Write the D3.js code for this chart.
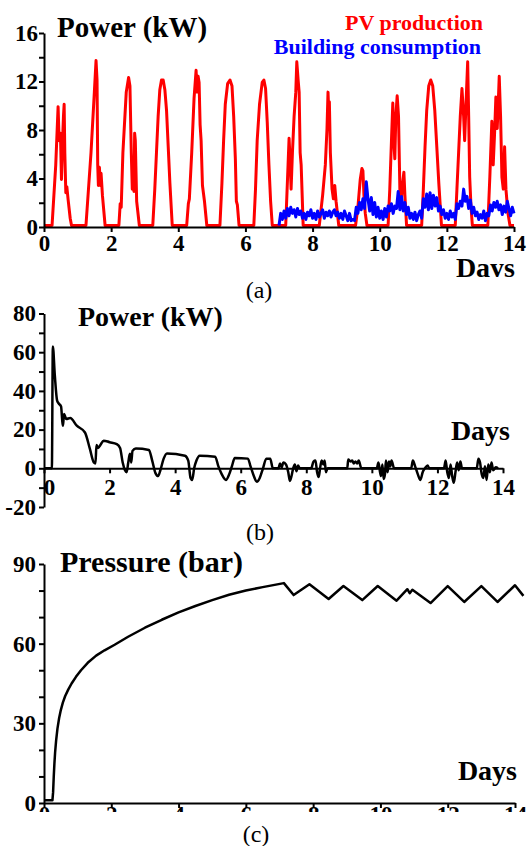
<!DOCTYPE html>
<html>
<head>
<meta charset="utf-8">
<script src="https://cdn.jsdelivr.net/npm/d3@7"></script>
<style>
  body { margin: 0; background: #fff; }
  svg text { font-family: "Liberation Serif", "Times New Roman", serif; fill: #000; }
  .axis path, .axis line { stroke: #000; stroke-width: 2; }
  .axis text { font-family: "Liberation Serif", "Times New Roman", serif; font-size: 23px; font-weight: bold; }
  .title { font-size: 29px; font-weight: bold; }
  .days { font-size: 28px; font-weight: bold; }
  .caption { font-size: 24px; }
  .legend { font-size: 22px; font-weight: bold; }
</style>
</head>
<body>
<script>
// 日数の目盛
var dayTicks = [0, 2, 4, 6, 8, 10, 12, 14];

// (a) 太陽光発電 [日, kW]
var pvProduction = [
  [0,0],[0.24,0],[0.35,5],[0.42,9.8],[0.45,7],[0.49,7.6],[0.52,3.8],[0.55,6.8],[0.58,9],[0.6,10],[0.62,6],[0.65,2.7],[0.68,3.2],[0.72,2.1],[0.78,0.6],[0.82,0],
  [1.25,0],[1.4,6],[1.5,11],[1.55,13.6],[1.58,12],[1.6,5],[1.62,3.3],[1.65,4.8],[1.68,3.3],[1.7,4.3],[1.74,2.5],[1.82,0],
  [2.23,0],[2.27,1.8],[2.3,1.5],[2.35,6],[2.45,11],[2.52,12.2],[2.56,11.5],[2.6,6],[2.63,3],[2.66,4.5],[2.68,2.8],[2.7,7.6],[2.72,7],[2.76,2],[2.84,0],
  [3.24,0],[3.3,3],[3.35,6],[3.4,9],[3.45,11.2],[3.5,12],[3.55,12],[3.6,11.2],[3.65,9.5],[3.7,6.5],[3.75,3.5],[3.82,0],
  [4.25,0],[4.3,1.8],[4.33,2.2],[4.4,6],[4.47,10.5],[4.53,12.8],[4.56,11],[4.59,12.3],[4.62,11.8],[4.65,8.3],[4.68,7],[4.72,3.3],[4.78,2],[4.85,0],
  [5.24,0],[5.3,3.5],[5.35,7],[5.4,10],[5.47,11.7],[5.54,12],[5.6,11.5],[5.65,9],[5.7,5.5],[5.73,2],[5.76,1.7],[5.81,0],
  [6.25,0],[6.3,3],[6.35,7],[6.42,10],[6.5,11.8],[6.55,12],[6.6,11.3],[6.65,8.5],[6.7,5],[6.75,2],[6.8,0],
  [7.2,0],[7.27,5],[7.3,7.2],[7.33,5.5],[7.36,3],[7.4,6],[7.45,9],[7.5,11],[7.53,13.5],[7.57,12],[7.6,11],[7.63,6],[7.66,5],[7.72,0],
  [8.2,0],[8.3,2.5],[8.38,5],[8.43,8],[8.46,11],[8.48,9.5],[8.5,10.2],[8.53,6],[8.58,3],[8.62,2.2],[8.66,3.3],[8.7,2],[8.78,0],
  [9.28,0],[9.35,1.5],[9.42,3.8],[9.47,4.7],[9.5,4.5],[9.53,2.5],[9.57,1],[9.62,0],
  [10.25,0],[10.3,3],[10.35,7],[10.39,10.1],[10.42,7],[10.45,5.5],[10.48,9],[10.52,10.7],[10.56,9],[10.6,3],[10.63,1.5],[10.68,3.5],[10.72,4.4],[10.75,2.5],[10.8,0],
  [11.25,0],[11.3,3],[11.35,6.5],[11.4,9.5],[11.46,11.5],[11.52,12],[11.58,11.5],[11.64,9.5],[11.7,6.5],[11.76,3.5],[11.84,0],
  [12.25,0],[12.3,3],[12.35,6],[12.4,9],[12.45,11.3],[12.5,9],[12.53,7],[12.57,10],[12.62,13.5],[12.65,9],[12.68,4],[12.72,1.5],[12.76,0],
  [13.22,0],[13.28,4],[13.34,8.6],[13.38,5],[13.42,7.5],[13.46,10.6],[13.5,8],[13.53,10],[13.56,12.3],[13.6,9],[13.64,4],[13.68,3],[13.72,6.5],[13.76,3],[13.82,1],[13.88,0],[14,0]
];

// (a) 建物消費 7日目から0.05日ごと (kW)
var consumptionStart = 7, consumptionStep = 0.05;
var consumption = [
  0, 1.0, 0.5, 1.2, 0.6, 1.4, 0.8, 1.5, 1.0, 1.3,
  0.7, 1.4, 0.9, 1.2, 0.6, 1.0, 0.5, 1.1, 0.8, 1.3,
  0.6, 1.0, 0.5, 1.2, 0.7, 1.0, 1.3, 0.6, 1.1, 0.8,
  1.2, 0.7, 1.1, 1.3, 0.8, 1.1, 0.6, 1.0, 0.5, 1.2,
  0.8, 0.4, 1.0, 0.4, 0.5, 0.4, 1.5, 1.0, 1.9, 1.3,
  2.2, 1.4, 3.6, 2.2, 1.2, 2.3, 0.9, 1.9, 0.7, 1.5,
  0.6, 1.2, 0.5, 1.4, 0.7, 1.6, 1.2, 1.8, 1.0, 1.6,
  1.4, 2.8, 1.3, 2.4, 1.2, 1.9, 0.9, 1.5, 0.6, 1.0,
  0.5, 1.1, 0.4, 0.9, 1.2, 0.6, 2.2, 1.5, 2.6, 1.3,
  2.7, 1.4, 2.5, 1.6, 2.3, 1.2, 1.6, 0.9, 1.3, 0.6,
  1.0, 0.5, 1.2, 0.7, 1.0, 0.5, 1.8, 1.4, 2.0, 1.6,
  3.0, 2.0, 2.4, 1.4, 2.1, 1.0, 1.5, 0.8, 1.1, 0.5,
  0.9, 0.6, 1.2, 0.4, 1.0, 0.8, 1.7, 1.2, 1.9, 1.5,
  2.0, 1.3, 1.7, 0.9, 1.6, 1.1, 2.0, 1.4, 0.8, 1.5,
  1.0
];

// (b) 電力 [日, kW]
var storagePower = [
  [0,0],[0.24,0],[0.27,63],[0.33,48],[0.4,35],[0.45,33.5],[0.52,32],[0.56,24],[0.58,22],[0.61,28],[0.64,27],[0.68,25.5],[0.8,26],[1.0,22],[1.25,18.5],[1.4,10],[1.52,3],[1.57,2.5],
  [1.6,12],[1.65,10.5],[1.72,12],[1.82,14.3],[2.0,13.5],[2.22,12.5],[2.32,10.5],[2.4,3],[2.47,-1],[2.52,-2],[2.57,3],[2.62,7.5],[2.66,3],[2.7,9],[2.8,10.2],
  [3.2,9.5],[3.3,4],[3.4,-2.5],[3.48,-4],[3.55,-1],[3.65,5],[3.75,7.7],[4.3,6.5],[4.4,4],[4.47,-5],[4.52,-6],[4.58,0],[4.65,4],[4.75,6.5],
  [5.22,6],[5.32,1],[5.42,-3],[5.55,-6],[5.65,-3],[5.73,1],[5.82,5.3],[6.22,5],[6.3,1],[6.4,-4],[6.49,-7],[6.58,-5],[6.68,0],[6.78,5],[6.9,5],[6.98,0],
  [7.15,0],[7.2,2.5],[7.25,0.5],[7.3,3],[7.38,2],[7.45,-2],[7.5,-6.5],[7.55,-4],[7.6,0],[7.65,2],[7.7,-1.5],[7.75,1.5],[7.8,0],
  [8.15,0],[8.22,3.5],[8.28,4],[8.33,-2],[8.38,-4.5],[8.42,0],[8.47,4],[8.52,2],[8.56,4],[8.6,-2],[8.65,0],
  [9.25,0],[9.28,4.5],[9.35,3.5],[9.4,4],[9.45,2.5],[9.5,3.5],[9.55,2.5],[9.6,4],[9.68,0],
  [10.15,0],[10.2,3],[10.25,-2],[10.28,-4],[10.32,2],[10.36,-5.5],[10.4,-3],[10.43,4],[10.48,-2],[10.52,3.5],[10.56,1],[10.6,4],[10.68,0],
  [11.2,0],[11.25,4],[11.32,1],[11.4,-3],[11.48,-6],[11.55,-2],[11.62,0],[11.7,1.5],[11.75,0],
  [12.2,0],[12.25,4],[12.3,-2],[12.35,-5],[12.4,2],[12.45,-4],[12.5,-7.5],[12.55,-2],[12.6,3],[12.65,-1],[12.7,3.5],[12.75,0],
  [13.2,0],[13.25,5],[13.3,3],[13.35,-3],[13.4,-5],[13.45,1],[13.5,-6],[13.55,2],[13.6,-2],[13.65,3],[13.7,-1],[13.78,0.5],[13.85,0]
];

// (c) 圧力 [日, bar]
var pressure = [
  [0,1],[0.25,1],[0.27,4],[0.29,10],[0.31,15],[0.33,19],[0.36,23.5],[0.4,28],[0.45,32],[0.5,35],[0.56,37.8],[0.63,40.3],[0.72,42.7],
  [0.82,45],[0.95,47.5],[1.1,50],[1.3,52.8],[1.55,55.5],[1.8,57.5],[2.1,59.6],[2.5,62.6],[3.0,66],[3.5,69],[4.0,71.8],[4.5,74.2],
  [5.0,76.4],[5.5,78.4],[6.0,80],[6.5,81.3],[7.13,82.8],[7.42,78.3],[7.89,82.4],
  [8.46,76.8],[8.9,81.7],[9.46,76.4],[9.92,81.7],[10.48,76.2],[10.8,80.5],[10.87,79],[10.95,80.3],[11.49,75.3],[12.0,81.7],
  [12.49,75.7],[13.0,81.7],[13.48,75.7],[14.0,82],[14.25,78]
];

var svg = d3.select("body").append("svg")
    .attr("width", 532)
    .attr("height", 846);

// 軸の描画
function axes(x, y, yAll, yMajor, xPad, yPad) {
    var xg = svg.append("g")
        .attr("class", "axis")
        .attr("transform", "translate(0," + y(0) + ")")
        .call(d3.axisBottom(x).tickValues(dayTicks).tickSize(5).tickSizeOuter(0).tickPadding(xPad));
    svg.append("g")
        .attr("class", "axis")
        .attr("transform", "translate(" + x(0) + ",0)")
        .call(d3.axisLeft(y).tickValues(yAll).tickSize(5).tickSizeOuter(0).tickPadding(yPad)
            .tickFormat(d => yMajor.indexOf(d) >= 0 ? d : ""));
    return xg;
}

// ---------- (a) ----------
var xa = d3.scaleLinear().domain([0, 14]).range([44, 514]);
var ya = d3.scaleLinear().domain([0, 16]).range([227, 33]);

svg.append("path")
    .datum(pvProduction)
    .attr("fill", "none")
    .attr("stroke", "#ff0000")
    .attr("stroke-width", 3)
    .attr("stroke-linejoin", "round")
    .attr("d", d3.line().x(d => xa(d[0])).y(d => ya(d[1]) - 1.5));

svg.append("path")
    .datum(consumption)
    .attr("fill", "none")
    .attr("stroke", "#0000ff")
    .attr("stroke-width", 3)
    .attr("stroke-linejoin", "round")
    .attr("d", d3.line().x((d, i) => xa(consumptionStart + i * consumptionStep)).y(d => ya(d) - 1.5));

axes(xa, ya, [0, 2, 4, 6, 8, 10, 12, 14, 16], [0, 4, 8, 12, 16], 3, 1);

svg.append("text").attr("class", "title").attr("x", 57).attr("y", 37).text("Power (kW)");
svg.append("text").attr("class", "legend").attr("x", 483).attr("y", 30)
    .attr("text-anchor", "end").style("fill", "#ff0000").text("PV production");
svg.append("text").attr("class", "legend").attr("x", 481).attr("y", 54)
    .attr("text-anchor", "end").style("fill", "#0000ff").text("Building consumption");

svg.append("clipPath").attr("id", "clipA")
    .append("rect").attr("x", 0).attr("y", 200).attr("width", 532).attr("height", 77);
svg.append("text").attr("class", "days").attr("x", 515).attr("y", 277)
    .attr("text-anchor", "end").attr("clip-path", "url(#clipA)").text("Days");
svg.append("text").attr("class", "caption").attr("x", 259).attr("y", 298)
    .attr("text-anchor", "middle").text("(a)");

// ---------- (b) ----------
var xb = d3.scaleLinear().domain([0, 14]).range([44, 503]);
var yb = d3.scaleLinear().domain([-20, 80]).range([507, 313.5]);

svg.append("path")
    .datum(storagePower)
    .attr("fill", "none")
    .attr("stroke", "#000")
    .attr("stroke-width", 2.5)
    .attr("stroke-linejoin", "round")
    .attr("d", d3.line().curve(d3.curveMonotoneX).x(d => xb(d[0])).y(d => yb(d[1])));

var xbAxis = axes(xb, yb, [-20, -10, 0, 10, 20, 30, 40, 50, 60, 70, 80], [-20, 0, 20, 40, 60, 80], 5, 3);
xbAxis.selectAll(".tick text").filter(d => d === 0).attr("dx", 5);

svg.append("text").attr("class", "title").attr("x", 78).attr("y", 326).style("font-size", "28px").text("Power (kW)");
svg.append("text").attr("class", "days").attr("x", 510).attr("y", 440)
    .attr("text-anchor", "end").text("Days");
svg.append("text").attr("class", "caption").attr("x", 260).attr("y", 540)
    .attr("text-anchor", "middle").text("(b)");

// ---------- (c) ----------
var xc = d3.scaleLinear().domain([0, 14]).range([44, 515]);
var yc = d3.scaleLinear().domain([0, 90]).range([803, 564]);

svg.append("path")
    .datum(pressure)
    .attr("fill", "none")
    .attr("stroke", "#000")
    .attr("stroke-width", 2.5)
    .attr("stroke-linejoin", "round")
    .attr("d", d3.line().x(d => xc(d[0])).y(d => yc(d[1])));

svg.append("clipPath").attr("id", "clipC")
    .append("rect").attr("x", 0).attr("y", 550).attr("width", 532).attr("height", 262);
var clipped = svg.append("g").attr("clip-path", "url(#clipC)");
clipped.append("g")
    .attr("class", "axis")
    .attr("transform", "translate(0," + yc(0) + ")")
    .call(d3.axisBottom(xc).tickValues(dayTicks).tickSize(5).tickSizeOuter(0).tickPadding(-2));
svg.append("g")
    .attr("class", "axis")
    .attr("transform", "translate(" + xc(0) + ",0)")
    .call(d3.axisLeft(yc).tickValues([0, 10, 20, 30, 40, 50, 60, 70, 80, 90]).tickSize(5).tickSizeOuter(0).tickPadding(3)
        .tickFormat(d => d % 30 === 0 ? d : ""));

svg.append("text").attr("class", "title").attr("x", 60).attr("y", 572).style("font-size", "30px").text("Pressure (bar)");
svg.append("text").attr("class", "days").attr("x", 517).attr("y", 780)
    .attr("text-anchor", "end").text("Days");
svg.append("text").attr("class", "caption").attr("x", 256).attr("y", 842)
    .attr("text-anchor", "middle").text("(c)");
</script>
</body>
</html>
